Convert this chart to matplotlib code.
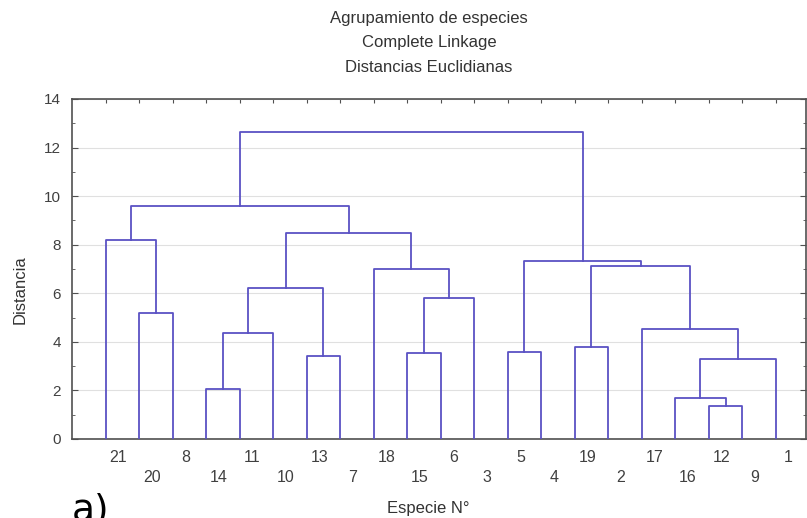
import matplotlib
matplotlib.use('Agg')
import matplotlib.pyplot as plt
from matplotlib.ticker import MultipleLocator

plt.rcParams['font.family'] = ['Liberation Sans', 'DejaVu Sans']

# hojas del dendrograma, en el orden de dibujo
hojas = ['21', '20', '8', '14', '11', '10', '13', '7', '18', '15', '6',
         '3', '5', '4', '19', '2', '17', '16', '12', '9', '1']

# uniones: (grupo izquierdo, grupo derecho, distancia)
izq = ['20', '21', '14', 'm3', '13', 'm4', '15', 'm7', '18', 'm6',
       'm2', '5', '19', '12', '16', 'm15', '17', 'm13', 'm12', 'm11']
der = ['8', 'm1', '11', '10', '7', 'm5', '6', '3', 'm8', 'm9',
       'm10', '4', '2', '9', 'm14', '1', 'm16', 'm17', 'm18', 'm19']
dist = [5.2, 8.2, 2.05, 4.35, 3.4, 6.2, 3.55, 5.8, 7.0, 8.5,
        9.6, 3.6, 3.78, 1.37, 1.68, 3.28, 4.52, 7.13, 7.35, 12.63]

color = '#5a52c4'

fig = plt.figure(figsize=(8.07, 5.18), dpi=100)
ax = fig.add_axes([72 / 807, 79 / 518, 734 / 807, 340 / 518])

# posicion y altura de cada grupo
pos = {h: i + 1 for i, h in enumerate(hojas)}
alt = {h: 0.0 for h in hojas}
for k, (a, b, d) in enumerate(zip(izq, der, dist)):
    xa, xb = pos[a], pos[b]
    ax.plot([xa, xa, xb, xb], [alt[a], d, d, alt[b]], color=color, lw=1.3, zorder=3)
    nombre = 'm%d' % (k + 1)
    pos[nombre] = (xa + xb) / 2
    alt[nombre] = d

ax.set_xlim(0, 21.9)
ax.set_ylim(0, 14)
ax.yaxis.set_major_locator(MultipleLocator(2))
ax.yaxis.set_minor_locator(MultipleLocator(1))
ax.set_xticks(range(1, len(hojas) + 1))
ax.tick_params(axis='x', which='both', bottom=False, top=True, labelbottom=False,
               direction='in', length=3, color='#505050')
ax.tick_params(axis='y', which='both', left=True, right=True, direction='in',
               color='#505050', labelsize=11, labelcolor='#404040', pad=8)
ax.tick_params(axis='y', which='major', length=4)
ax.tick_params(axis='y', which='minor', length=2)
ax.grid(axis='y', which='major', color='#e0e0e0', lw=0.8, zorder=0)
for s in ax.spines.values():
    s.set_color('#505050')
    s.set_linewidth(1.2)

# etiquetas de las especies en dos filas, desplazadas
for i, h in enumerate(hojas):
    fila = -0.053 if i % 2 == 0 else -0.112
    ax.text(i + 1.38, fila, h, transform=ax.get_xaxis_transform(),
            ha='center', va='center', fontsize=11.5, color='#404040')

fig.text(429 / 807, 1 - 18 / 518, 'Agrupamiento de especies', ha='center', va='center',
         fontsize=12, color='#333333')
fig.text(429 / 807, 1 - 43 / 518, 'Complete Linkage', ha='center', va='center',
         fontsize=12, color='#333333')
fig.text(429 / 807, 1 - 68 / 518, 'Distancias Euclidianas', ha='center', va='center',
         fontsize=12, color='#333333')
fig.text(20 / 807, 1 - 290 / 518, 'Distancia', rotation=90, ha='center', va='center',
         fontsize=12, color='#333333')
fig.text(428 / 807, 1 - 508 / 518, 'Especie N°', ha='center', va='center',
         fontsize=12, color='#333333')
fig.text(72 / 807, -3 / 518, 'a)', ha='left', va='baseline', fontsize=27,
         color='black', family='DejaVu Sans')

fig.savefig('out.png', dpi=100)
